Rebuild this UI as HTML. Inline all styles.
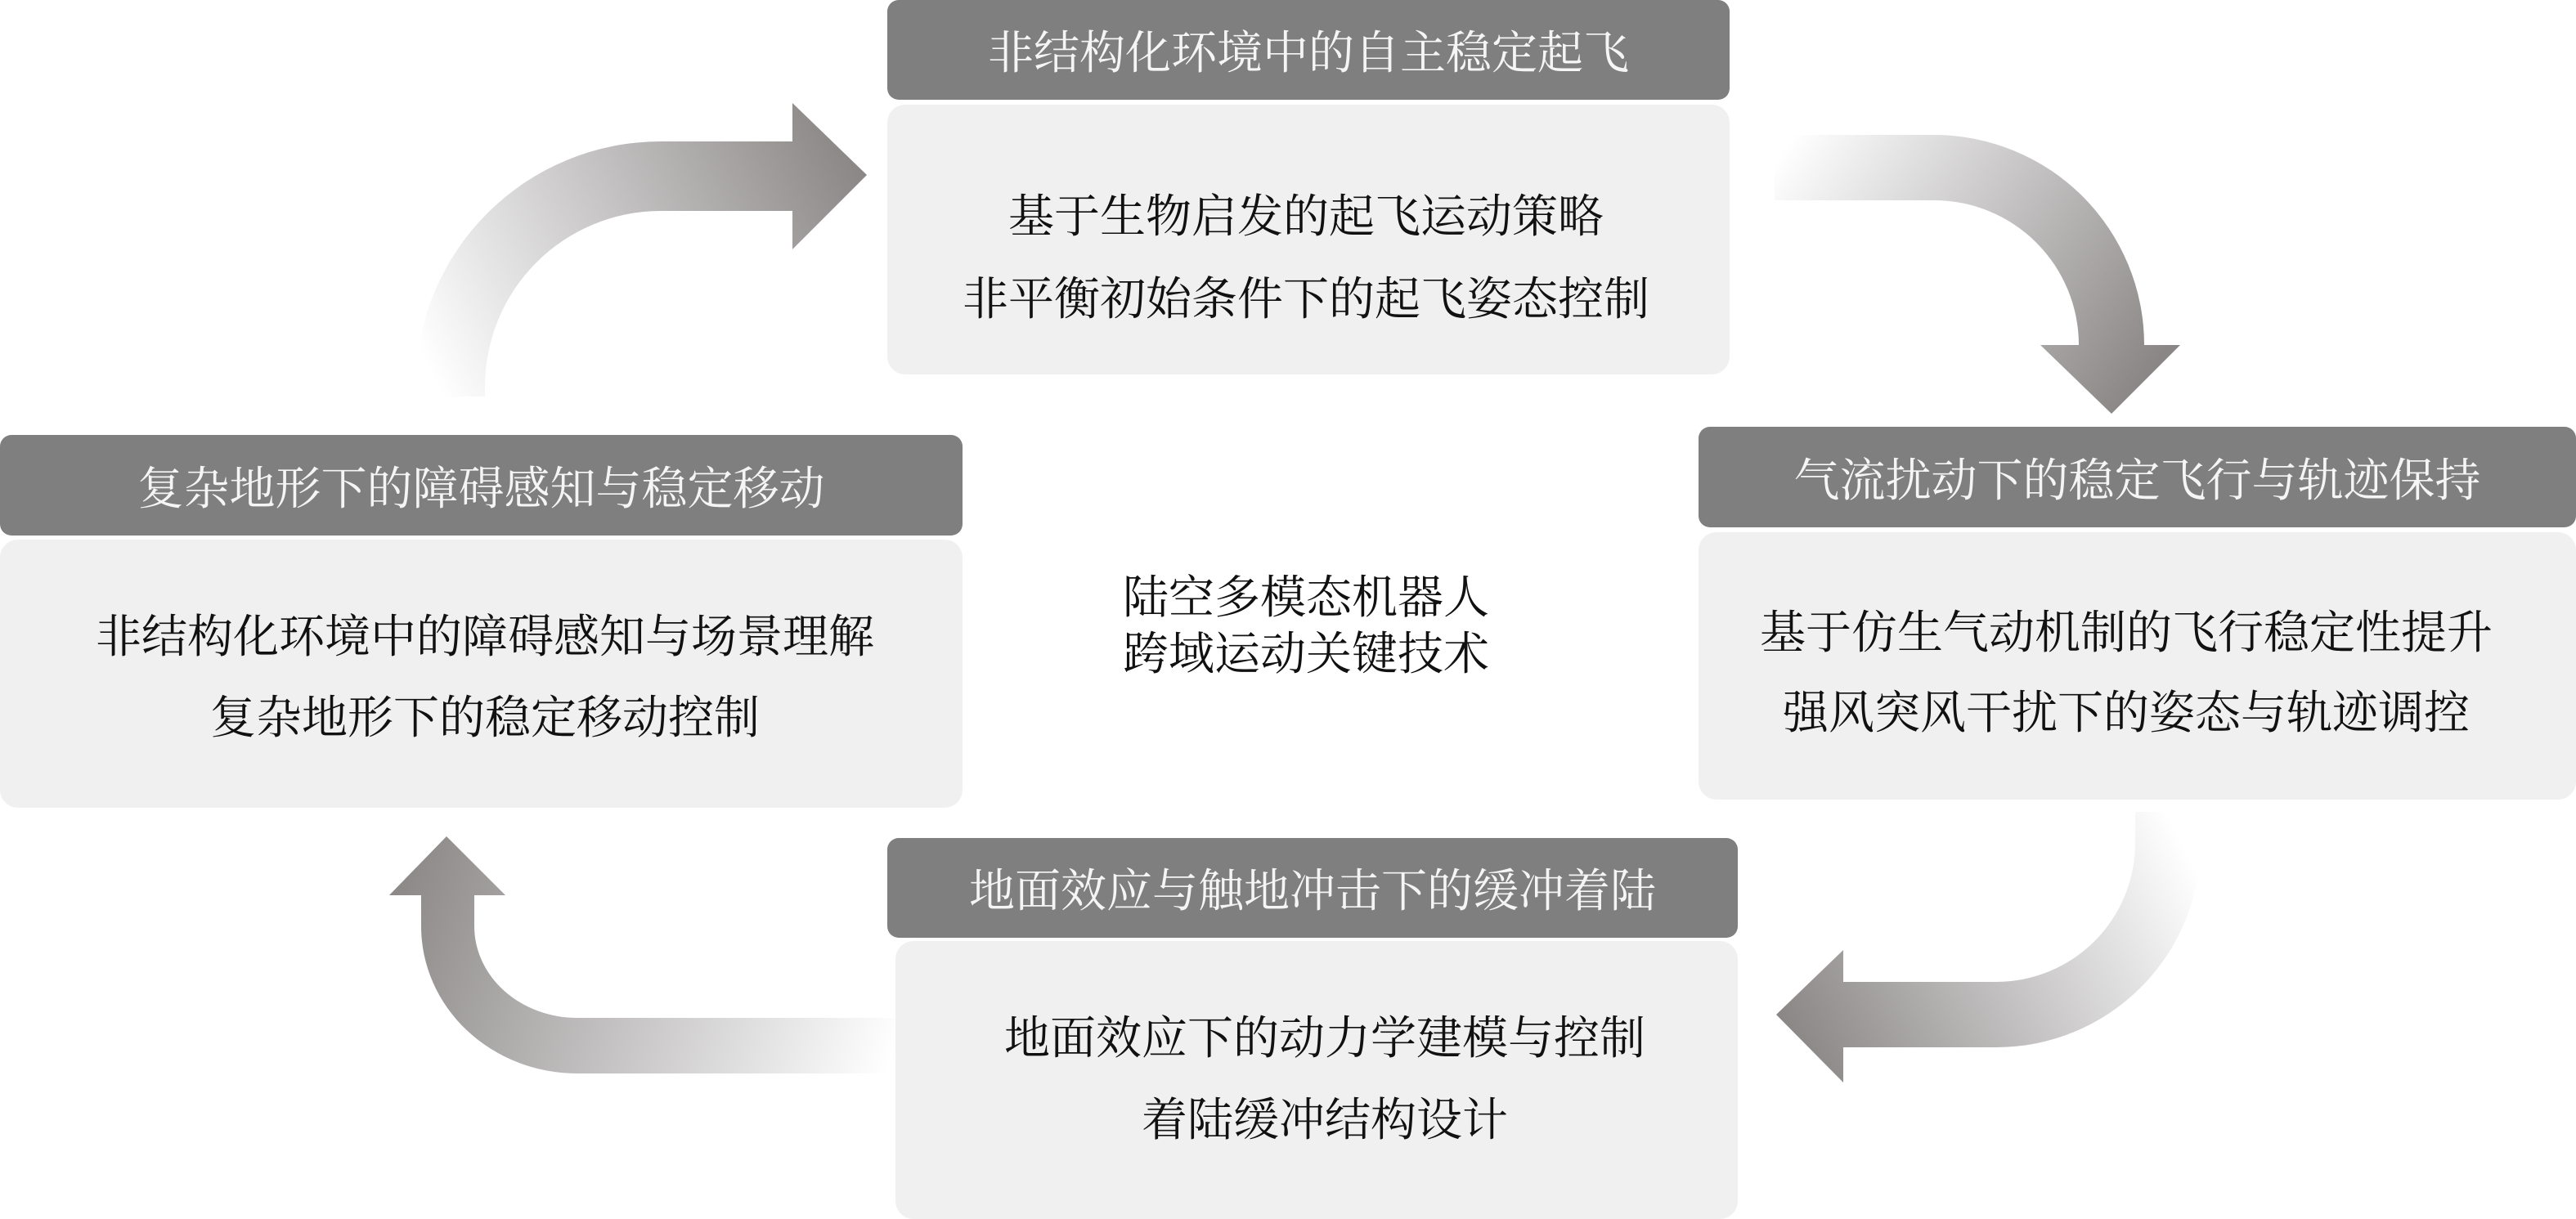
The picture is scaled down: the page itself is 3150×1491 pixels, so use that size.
<!DOCTYPE html>
<html><head><meta charset="utf-8">
<style>
html,body{margin:0;padding:0;background:#fff;}
body{width:3150px;height:1476px;position:relative;overflow:hidden;font-family:"Liberation Serif","Noto Serif CJK SC",serif;}
.h{position:absolute;background:#7f7f7f;border-radius:14px;color:#f5f5f5;font-size:56px;display:flex;align-items:center;justify-content:center;white-space:nowrap;}
.b{position:absolute;background:#f0f0f0;border-radius:22px;}
.t{position:absolute;font-size:56px;color:#111;white-space:nowrap;transform:translate(-50%,-50%);}
svg{position:absolute;left:0;top:0;}
</style></head><body>
<svg width="3150" height="1476" viewBox="0 0 3150 1476">
<defs>
<linearGradient id="g1" gradientUnits="userSpaceOnUse" x1="540" y1="480" x2="1060" y2="214"><stop offset="0" stop-color="#fff"/><stop offset="1" stop-color="#8a8686"/></linearGradient>
<linearGradient id="g2" gradientUnits="userSpaceOnUse" x1="2170" y1="200" x2="2600" y2="500"><stop offset="0" stop-color="#fff"/><stop offset="1" stop-color="#8a8686"/></linearGradient>
<linearGradient id="g3" gradientUnits="userSpaceOnUse" x1="2650" y1="995" x2="2172" y2="1241"><stop offset="0" stop-color="#fff"/><stop offset="1" stop-color="#8a8686"/></linearGradient>
<linearGradient id="g4" gradientUnits="userSpaceOnUse" x1="1095" y1="1280" x2="480" y2="1060"><stop offset="0" stop-color="#fff"/><stop offset="1" stop-color="#8a8686"/></linearGradient>
</defs>
<path fill="url(#g1)" d="M508 485 L508 473 A300 300 0 0 1 808 173 L969 173 L969 126 L1060 214 L969 305 L969 258 L808 258 A215 215 0 0 0 593 473 L593 485 Z"/>
<path fill="url(#g2)" d="M2170 165 L2365 165 A257 257 0 0 1 2622 422 L2666 422 L2582 506 L2495 422 L2542 422 A177 177 0 0 0 2365 245 L2170 245 Z"/>
<path fill="url(#g3)" d="M2611 993 L2691 993 L2691 1031 A250 250 0 0 1 2441 1281 L2254 1281 L2254 1324 L2172 1241 L2254 1162 L2254 1201 L2441 1201 A170 170 0 0 0 2611 1031 Z"/>
<path fill="url(#g4)" d="M1095 1245 L706 1245 A126 112 0 0 1 580 1133 L580 1095 L618 1095 L546 1023 L476 1095 L515 1095 L515 1133 A191 180 0 0 0 706 1313 L1095 1313 Z"/>
</svg>

<div class="h" style="left:1085px;top:0;width:1030px;height:122px;">非结构化环境中的自主稳定起飞</div>
<div class="b" style="left:1085px;top:128px;width:1030px;height:330px;"></div>
<div class="t" style="left:1597px;top:261px;">基于生物启发的起飞运动策略</div>
<div class="t" style="left:1597px;top:362px;">非平衡初始条件下的起飞姿态控制</div>

<div class="h" style="left:0;top:532px;width:1177px;height:123px;">复杂地形下的障碍感知与稳定移动</div>
<div class="b" style="left:0;top:660px;width:1177px;height:328px;"></div>
<div class="t" style="left:593px;top:775px;">非结构化环境中的障碍感知与场景理解</div>
<div class="t" style="left:593px;top:874px;">复杂地形下的稳定移动控制</div>

<div class="h" style="left:2077px;top:522px;width:1073px;height:123px;">气流扰动下的稳定飞行与轨迹保持</div>
<div class="b" style="left:2077px;top:651px;width:1073px;height:327px;"></div>
<div class="t" style="left:2600px;top:770px;">基于仿生气动机制的飞行稳定性提升</div>
<div class="t" style="left:2600px;top:868px;">强风突风干扰下的姿态与轨迹调控</div>

<div class="h" style="left:1085px;top:1025px;width:1040px;height:122px;">地面效应与触地冲击下的缓冲着陆</div>
<div class="b" style="left:1095px;top:1151px;width:1030px;height:340px;"></div>
<div class="t" style="left:1620px;top:1266px;">地面效应下的动力学建模与控制</div>
<div class="t" style="left:1620px;top:1366px;">着陆缓冲结构设计</div>

<div class="t" style="left:1597px;top:727px;">陆空多模态机器人</div>
<div class="t" style="left:1597px;top:796px;">跨域运动关键技术</div>
</body></html>
